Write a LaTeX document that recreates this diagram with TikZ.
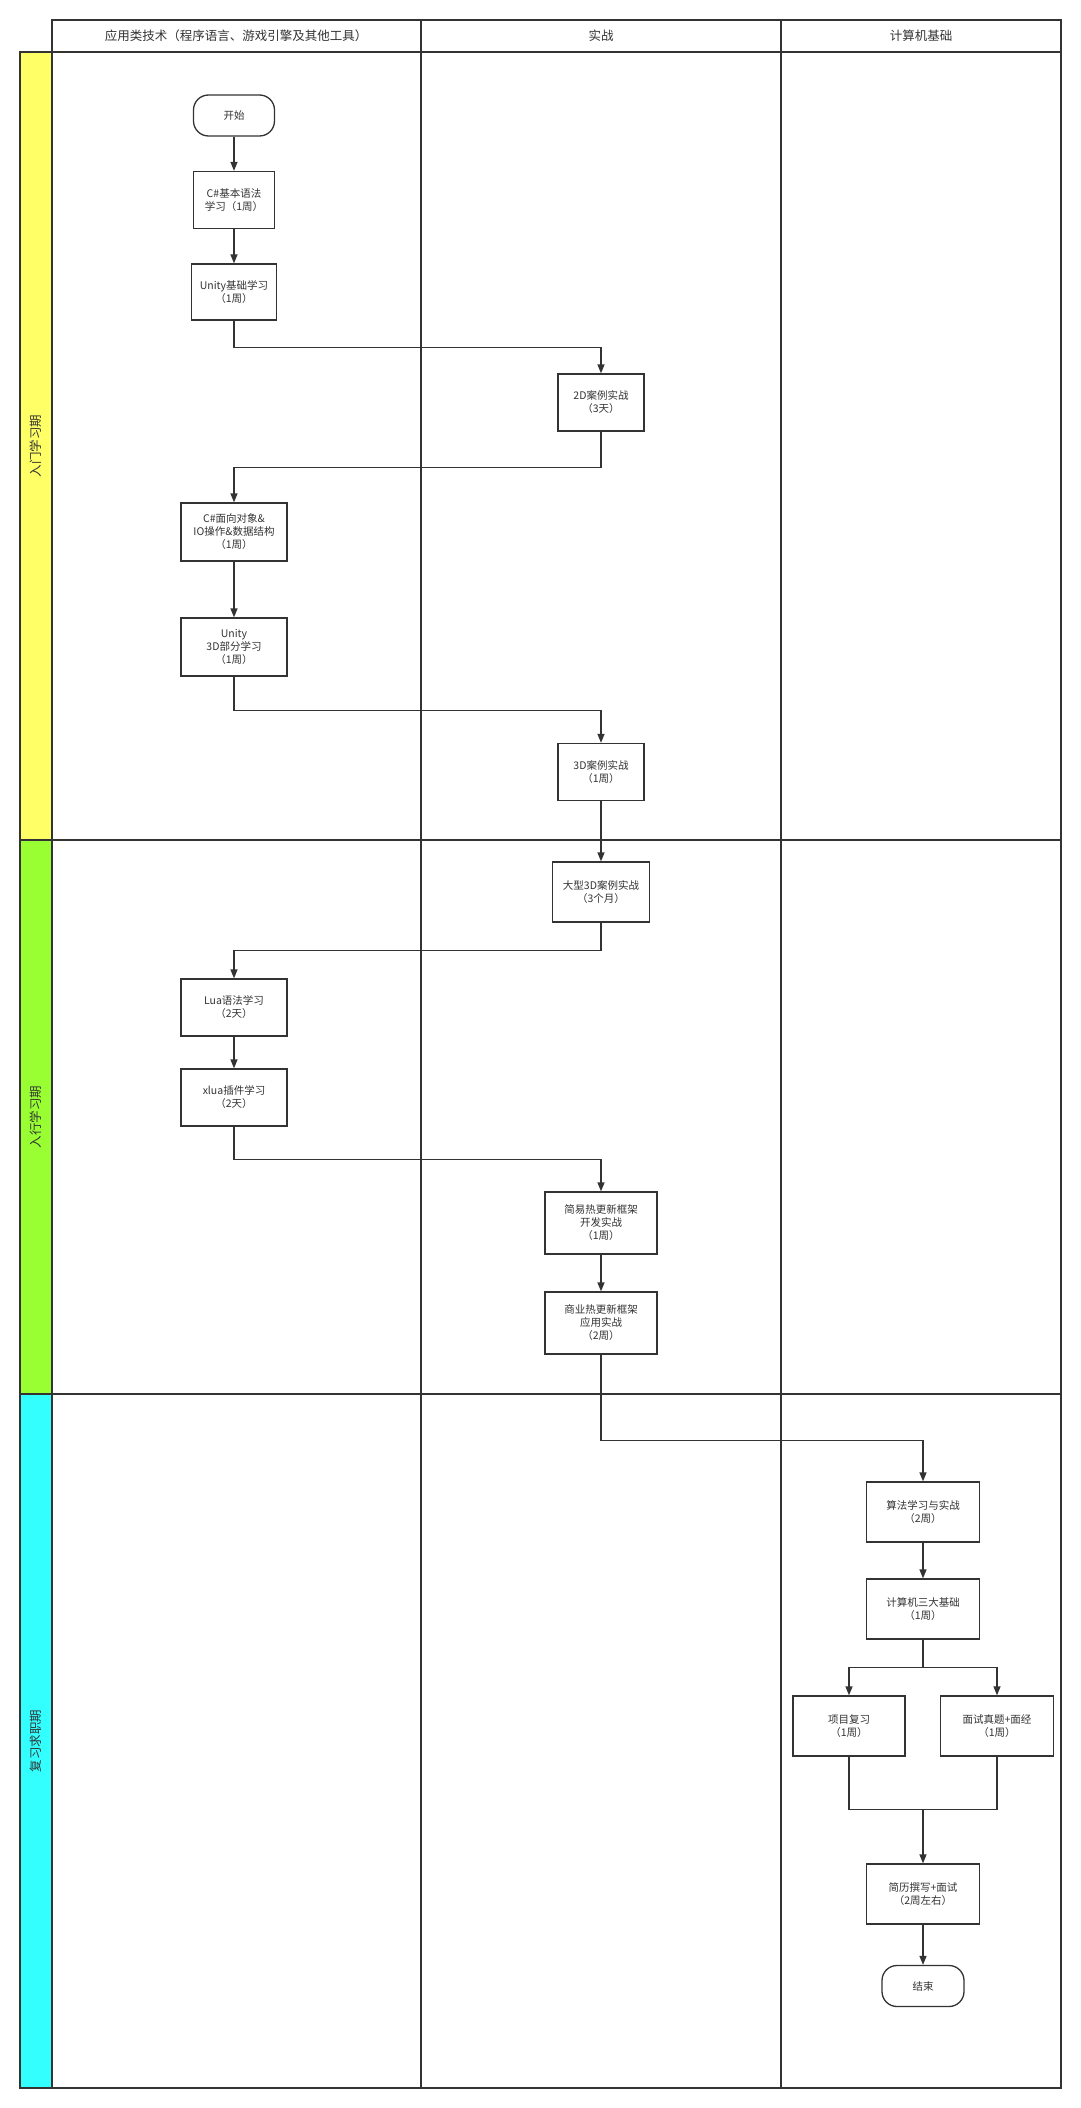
\documentclass[tikz,border=0pt]{standalone}
\usepackage{fontspec}
\setmainfont{Noto Sans CJK SC}
\usetikzlibrary{arrows.meta,calc}
\definecolor{ink}{HTML}{333333}
\definecolor{laneA}{HTML}{FFFF66}
\definecolor{laneB}{HTML}{99FF33}
\definecolor{laneC}{HTML}{33FFFF}

\begin{document}
\begin{tikzpicture}[x=1pt, y=-1pt,
  every node/.style = {align=center, text=ink,
    font=\fontsize{10.5}{13}\selectfont},
  stage/.style 2 args = {shape=rectangle, draw=ink, line width=1.3pt,
    fill=white, inner sep=2pt, minimum width=#1pt, minimum height=#2pt},
  terminal/.style = {shape=rectangle, rounded corners=15pt, draw=ink,
    line width=1.3pt, fill=white, minimum width=#1pt, minimum height=41pt},
  flow/.style = {draw=ink, line width=1.3pt, -{Triangle[length=9pt, width=7pt]}},
  lane/.style = {draw=ink, line width=1.3pt},
  title/.style = {font=\fontsize{12.5}{15}\selectfont}]
  \fill[white] (0,0) rectangle (1080,2108);
  \useasboundingbox (0,0) rectangle (1080,2108);

  \fill[laneA] (20,52) rectangle (52,840);
  \fill[laneB] (20,840) rectangle (52,1394);
  \fill[laneC] (20,1394) rectangle (52,2088);
  \draw[lane] (52,20) rectangle (1061,2088);
  \draw[lane] (20,52) rectangle (1061,2088);
  \draw[lane] (421,20) -- (421,2088);
  \draw[lane] (781,20) -- (781,2088);
  \draw[lane] (20,840) -- (1061,840);
  \draw[lane] (20,1394) -- (1061,1394);

  \node[title] (colapp) at (236,36) {应用类技术（程序语言、游戏引擎及其他工具）};
  \node[title] (colwar) at (601,36) {实战};
  \node[title] (colbase) at (921,36) {计算机基础};
  \node[title, rotate=90] (lanein) at (36,446) {入门学习期};
  \node[title, rotate=90] (lanejob) at (36,1117) {入行学习期};
  \node[title, rotate=90] (lanerev) at (36,1741) {复习求职期};

  \node[terminal=81] (start) at (234,115.5) {开始};
  \node[stage={81}{57}] (csb) at (234,200) {C\#基本语法\\学习（1周）};
  \node[stage={85}{56}] (unb) at (234,292) {Unity基础学习\\（1周）};
  \node[stage={86}{57}] (d2) at (601,402.5) {2D案例实战\\（3天）};
  \node[stage={106}{58}] (coo) at (234,532) {C\#面向对象\&\\IO操作\&数据结构\\（1周）};
  \node[stage={106}{58}] (u3d) at (234,647) {Unity\\3D部分学习\\（1周）};
  \node[stage={86}{57}] (d3) at (601,772) {3D案例实战\\（1周）};
  \node[stage={97}{60}] (big) at (601,892) {大型3D案例实战\\（3个月）};
  \node[stage={106}{57}] (lua) at (234,1007.5) {Lua语法学习\\（2天）};
  \node[stage={106}{57}] (xlua) at (234,1097.5) {xlua插件学习\\（2天）};
  \node[stage={112}{62}] (simple) at (601,1223) {简易热更新框架\\开发实战\\（1周）};
  \node[stage={112}{62}] (biz) at (601,1323) {商业热更新框架\\应用实战\\（2周）};
  \node[stage={113}{60}] (algo) at (923,1512) {算法学习与实战\\（2周）};
  \node[stage={113}{60}] (cs3) at (923,1609) {计算机三大基础\\（1周）};
  \node[stage={112}{60}] (proj) at (849,1726) {项目复习\\（1周）};
  \node[stage={113}{60}] (intv) at (997,1726) {面试真题+面经\\（1周）};
  \node[stage={113}{60}] (cv) at (923,1894) {简历撰写+面试\\（2周左右）};
  \node[terminal=82] (finish) at (923,1986) {结束};

  \draw[flow] (start) -- (csb);
  \draw[flow] (csb) -- (unb);
  \draw[flow] (unb.south) -- ++(0,27) -| (d2.north);
  \draw[flow] (d2.south) -- ++(0,36) -| (coo.north);
  \draw[flow] (coo) -- (u3d);
  \draw[flow] (u3d.south) -- ++(0,34) -| (d3.north);
  \draw[flow] (d3) -- (big);
  \draw[flow] (big.south) -- ++(0,28) -| (lua.north);
  \draw[flow] (lua) -- (xlua);
  \draw[flow] (xlua.south) -- ++(0,33) -| (simple.north);
  \draw[flow] (simple) -- (biz);
  \draw[flow] (biz.south) -- ++(0,86) -| (algo.north);
  \draw[flow] (algo) -- (cs3);
  \coordinate (fork) at ($(cs3.south)+(0,28)$);
  \draw[flow] (cs3.south) -- (fork) -| (proj.north);
  \draw[flow] (fork) -| (intv.north);
  \coordinate (join) at ($(cv.north)+(0,-54)$);
  \draw[lane] (proj.south) |- (join) -| (intv.south);
  \draw[flow] (join) -- (cv);
  \draw[flow] (cv) -- (finish);
\end{tikzpicture}
\end{document}
